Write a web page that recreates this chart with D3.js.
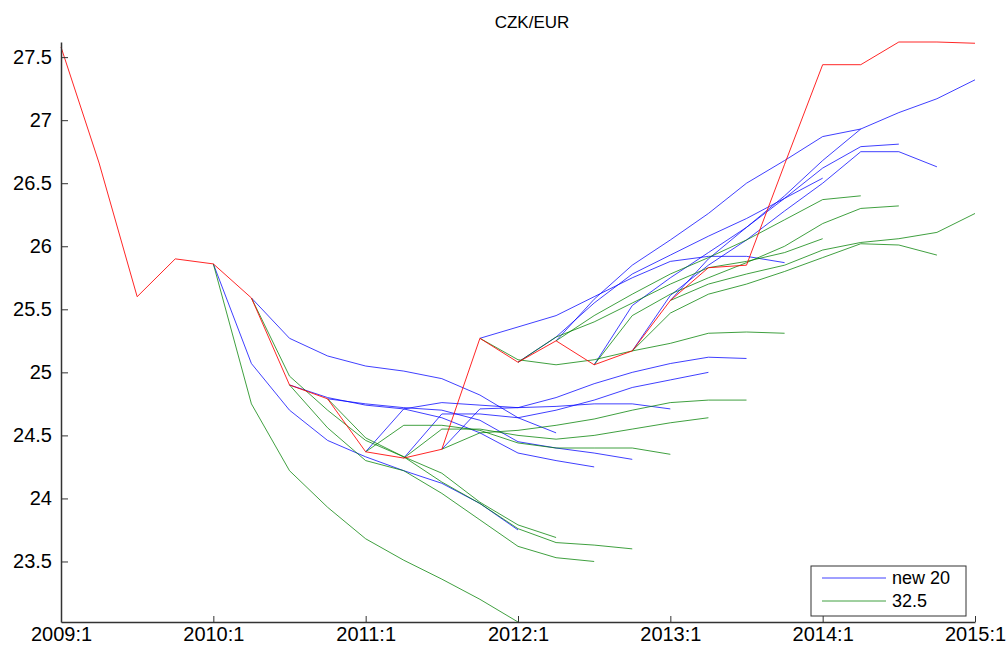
<!DOCTYPE html>
<html>
<head>
<meta charset="utf-8">
<script src="https://cdn.jsdelivr.net/npm/d3@7"></script>
<style>
  body { margin: 0; background: #fff; }
  svg text { font-family: "Liberation Sans", Arial, sans-serif; }
</style>
</head>
<body>
<svg id="chart" width="1006" height="646"></svg>
<script>
// quarterly CZK/EUR, actual path + two sets of 8-quarter forecasts
var tickLabels = ["2009:1", "2010:1", "2011:1", "2012:1", "2013:1", "2014:1", "2015:1"];
var yTicks = [23.5, 24, 24.5, 25, 25.5, 26, 26.5, 27, 27.5];

// actual, 2009:1 .. 2015:1
var actual = [27.58, 26.66, 25.60, 25.90, 25.86, 25.59, 24.90, 24.79, 24.37, 24.32, 24.39, 25.27,
              25.08, 25.25, 25.06, 25.17, 25.57, 25.83, 25.85, 26.65, 27.44, 27.44, 27.62, 27.62, 27.61];

// forecast start quarters (index into actual): 2010:1 .. 2013:1
var starts = [4, 5, 6, 7, 8, 9, 10, 11, 12, 13, 14, 15, 16];

// "new 20" forecasts (start value + 8 quarters)
var newTwenty = [
  [25.86, 25.07, 24.70, 24.46, 24.33, 24.22, 24.12, 23.96, 23.75],
  [25.59, 25.27, 25.13, 25.05, 25.01, 24.95, 24.82, 24.64, 24.52],
  [24.90, 24.80, 24.74, 24.71, 24.64, 24.52, 24.36, 24.30, 24.25],
  [24.79, 24.75, 24.72, 24.70, 24.62, 24.45, 24.40, 24.36, 24.31],
  [24.37, 24.71, 24.76, 24.74, 24.72, 24.73, 24.75, 24.75, 24.71],
  [24.32, 24.67, 24.67, 24.64, 24.70, 24.78, 24.88, 24.94, 25.00],
  [24.39, 24.71, 24.72, 24.80, 24.91, 25.00, 25.07, 25.12, 25.11],
  [25.27, 25.36, 25.45, 25.60, 25.75, 25.88, 25.92, 25.92, 25.87],
  [25.08, 25.28, 25.55, 25.78, 25.93, 26.08, 26.22, 26.38, 26.54],
  [25.25, 25.58, 25.85, 26.05, 26.26, 26.50, 26.68, 26.87, 26.93],
  [25.06, 25.53, 25.75, 25.95, 26.15, 26.38, 26.62, 26.79, 26.81],
  [25.17, 25.61, 25.85, 26.05, 26.28, 26.50, 26.75, 26.75, 26.63],
  [25.57, 25.90, 26.15, 26.40, 26.68, 26.93, 27.06, 27.17, 27.32]
];

// "32.5" forecasts
var thirtyTwo = [
  [25.86, 24.75, 24.22, 23.93, 23.68, 23.51, 23.36, 23.20, 23.02],
  [25.59, 24.97, 24.70, 24.46, 24.33, 24.20, 23.97, 23.79, 23.69],
  [24.90, 24.56, 24.30, 24.22, 24.04, 23.83, 23.62, 23.53, 23.50],
  [24.79, 24.48, 24.33, 24.13, 23.96, 23.76, 23.65, 23.63, 23.60],
  [24.37, 24.58, 24.58, 24.54, 24.44, 24.40, 24.40, 24.40, 24.35],
  [24.32, 24.55, 24.55, 24.50, 24.47, 24.50, 24.55, 24.60, 24.64],
  [24.39, 24.52, 24.54, 24.58, 24.63, 24.70, 24.76, 24.78, 24.78],
  [25.27, 25.10, 25.06, 25.10, 25.17, 25.23, 25.31, 25.32, 25.31],
  [25.08, 25.28, 25.40, 25.55, 25.70, 25.83, 25.88, 25.95, 26.06],
  [25.25, 25.45, 25.62, 25.78, 25.91, 26.05, 26.21, 26.37, 26.40],
  [25.06, 25.45, 25.62, 25.75, 25.87, 26.00, 26.18, 26.30, 26.32],
  [25.17, 25.47, 25.62, 25.70, 25.80, 25.91, 26.02, 26.01, 25.93],
  [25.57, 25.70, 25.78, 25.85, 25.97, 26.03, 26.06, 26.11, 26.26]
];

var seriesNames = ["new 20", "32.5"];
var seriesColors = ["#0000ff", "#008000"];

var svg = d3.select("#chart");

var x = d3.scaleLinear().domain([0, 24]).range([61, 975]);
var y = d3.scaleLinear().domain([23.02, 27.62]).range([622, 42]);

var line = d3.line()
  .x(function(d) { return x(d[0]); })
  .y(function(d) { return y(d[1]); });

//turn a forecast into [quarter, value] pairs
var toPoints = function(vals, start) {
  return vals.map(function(v, i) { return [start + i, v]; });
}

var drawSet = function(set, color) {
  set.forEach(function(vals, k) {
    svg.append("path")
      .attr("d", line(toPoints(vals, starts[k])))
      .attr("fill", "none")
      .attr("stroke", color)
      .attr("stroke-width", 1)
      .attr("stroke-opacity", 0.75);
  });
}

drawSet(newTwenty, seriesColors[0]);
drawSet(thirtyTwo, seriesColors[1]);

svg.append("path")
  .attr("d", line(toPoints(actual, 0)))
  .attr("fill", "none")
  .attr("stroke", "#ff0000")
  .attr("stroke-width", 1)
  .attr("stroke-opacity", 0.85);

// axes, matlab style ticks pointing inward
var xAxis = d3.axisBottom(x)
  .tickValues(d3.range(0, 25, 4))
  .tickFormat(function(d, i) { return tickLabels[i]; })
  .tickSizeInner(-6).tickSizeOuter(0).tickPadding(5);

var yAxis = d3.axisLeft(y)
  .tickValues(yTicks)
  .tickFormat(d3.format("~g"))
  .tickSizeInner(-7).tickSizeOuter(0).tickPadding(9);

var gx = svg.append("g").attr("transform", "translate(0,622)").call(xAxis);
var gy = svg.append("g").attr("transform", "translate(61,0)").call(yAxis);

[gx, gy].forEach(function(g) {
  g.select(".domain").attr("stroke", "#333").attr("stroke-width", 1.5);
  g.selectAll(".tick line").attr("stroke", "#333");
  g.selectAll(".tick text").attr("fill", "#000").style("font-size", "20px");
});

svg.append("text")
  .attr("x", 532).attr("y", 28)
  .attr("text-anchor", "middle")
  .style("font-size", "17px")
  .text("CZK/EUR");

// legend
var lg = svg.append("g").attr("transform", "translate(811,566)");
lg.append("rect")
  .attr("width", 155).attr("height", 50)
  .attr("fill", "#fff").attr("stroke", "#333");
seriesNames.forEach(function(name, i) {
  lg.append("line")
    .attr("x1", 11).attr("x2", 75)
    .attr("y1", 12 + i * 23).attr("y2", 12 + i * 23)
    .attr("stroke", seriesColors[i]).attr("stroke-opacity", 0.75);
  lg.append("text")
    .attr("x", 81).attr("y", 18 + i * 23)
    .style("font-size", "18px")
    .text(name);
});
</script>
</body>
</html>
